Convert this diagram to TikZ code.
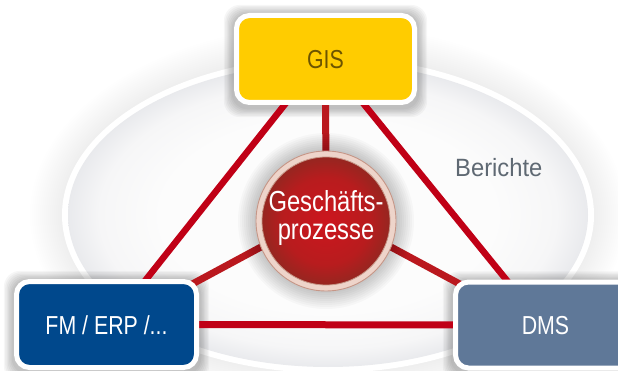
\documentclass[tikz,border=0pt]{standalone}
\usepackage{fontspec}
\setmainfont{Liberation Sans}
\newfontfamily\condfont{Liberation Sans}[FakeStretch=0.82]
\newfontfamily\bertfont{Liberation Sans}[FakeStretch=0.95]
\usetikzlibrary{calc}
\definecolor{linered}{RGB}{192,0,22}
\definecolor{spokered}{RGB}{186,24,30}
\definecolor{gisyellow}{RGB}{255,204,0}
\definecolor{gistext}{RGB}{108,84,0}
\definecolor{fmblue}{RGB}{0,72,140}
\definecolor{dmsgray}{RGB}{95,120,152}
\definecolor{bertgray}{RGB}{95,105,115}
\definecolor{ringpink}{RGB}{238,212,202}
\definecolor{ringedge}{RGB}{198,150,135}
\definecolor{redhi}{RGB}{204,22,30}
\definecolor{redmid}{RGB}{184,28,30}
\definecolor{redlo}{RGB}{150,38,32}
\definecolor{face0}{RGB}{252,252,252}
\definecolor{face1}{RGB}{246,246,247}
\definecolor{face2}{RGB}{233,234,237}
\pgfdeclareradialshading{facesh}{\pgfpoint{0bp}{0bp}}{color(0bp)=(face0); color(16bp)=(face0); color(22bp)=(face1); color(25bp)=(face2); color(50bp)=(face2)}
\pgfdeclareradialshading{redsh}{\pgfpoint{0bp}{0bp}}{color(0bp)=(redhi); color(17bp)=(redmid); color(25bp)=(redlo); color(50bp)=(redlo)}
\pgfdeclarelayer{bglayer}
\pgfdeclarelayer{linelayer}
\pgfsetlayers{bglayer,linelayer,main}
\tikzset{
  sysbox/.style={draw=white, line width=5pt, rounded corners=13pt,
    minimum width=178pt, minimum height=87pt, inner sep=0pt,
    text height=19pt, text depth=0pt,
    font=\condfont\fontsize{26pt}{30pt}\selectfont},
  redline/.style={draw=linered, line width=6.5pt},
  spokeline/.style={draw=spokered, line width=7pt},
  procfont/.style={font=\condfont\fontsize{29pt}{30pt}\selectfont, text=white, anchor=base, inner sep=0pt},
  softshadow/.style={fill=black, opacity=0.035, rounded corners=16pt},
}
\begin{document}
\begin{tikzpicture}[x=1pt,y=-1pt]
\useasboundingbox (0,0) rectangle (618,371);

% boxes
\node[sysbox, fill=gisyellow, text=gistext] (gis) at (325.5,59) {GIS};
\node[sysbox, fill=fmblue, text=white, minimum width=180pt, minimum height=86pt] (fm) at (106.5,324.5) {FM / ERP /...};
\node[sysbox, fill=dmsgray, text=white, minimum width=180pt, minimum height=86pt] (dms) at (545.5,325) {DMS};

\begin{pgfonlayer}{bglayer}
  \fill[white] (0,0) rectangle (618,371);
  \coordinate (bgc) at (328,215);
  \foreach \k in {0,...,15}
    \fill[black, opacity=0.0055] (bgc) ellipse ({(298-2*\k)*1pt} and {(190-2*\k)*1pt});
  \fill[white] (bgc) ellipse (266pt and 158pt);
  \shade[shading=facesh] (bgc) ellipse (260pt and 152pt);
  % box shadows
  \foreach \b in {gis,fm,dms}
    \foreach \d in {1,...,7}
      \fill[softshadow] ($(\b.north west)+(-\d*1.3-1,-\d*1.3+1)$) rectangle ($(\b.south east)+(\d*1.3+1,\d*1.3+3)$);
\end{pgfonlayer}

\coordinate (apex) at (324,55);
\coordinate (fmend) at (110,325);
\coordinate (dmsend) at (543,325);
\coordinate (hub) at (326,212);
\coordinate (fmspoke) at (170,296);
\coordinate (dmsspoke) at (482,296);
\coordinate (circ) at (326,221);

\begin{pgfonlayer}{linelayer}
  \draw[redline] (fmend) -- (apex) -- (dmsend);
  \draw[redline, line width=7pt] (fm.center) -- (dms.center);
  \draw[spokeline] (gis.center) -- (hub);
  \draw[spokeline] (hub) -- (fmspoke);
  \draw[spokeline] (hub) -- (dmsspoke);
\end{pgfonlayer}

% halo around circle
\foreach \r in {88,86,...,71}
  \fill[black, opacity=0.022] (circ) circle ({\r*1pt});
\fill[ringpink, draw=ringedge, line width=0.9pt] (circ) circle (70pt);
\shade[shading=redsh] (circ) circle (64pt);
\draw[ringedge, line width=0.8pt] (circ) circle (64pt);

\node[procfont] (gp1) at (326,212) {Geschäfts-};
\node[procfont] (gp2) at (326,240) {prozesse};

\node[anchor=base west, inner sep=0pt, text=bertgray, font=\bertfont\fontsize{25pt}{30pt}\selectfont] (ber) at (455,177) {Berichte};
\end{tikzpicture}
\end{document}
